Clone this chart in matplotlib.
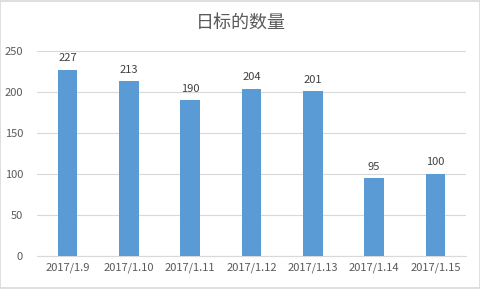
import matplotlib
matplotlib.use("Agg")
import matplotlib.pyplot as plt
from matplotlib.patches import Rectangle

plt.rcParams['font.family'] = ['Noto Sans CJK SC', 'DejaVu Sans']

categories = ["2017/1.9", "2017/1.10", "2017/1.11", "2017/1.12", "2017/1.13", "2017/1.14", "2017/1.15"]
values = [227, 213, 190, 204, 201, 95, 100]
title = "日标的数量"

fig = plt.figure(figsize=(4.81, 2.89), dpi=100)
fig.patches.append(Rectangle((0.001, 0.002), 0.997, 0.995, transform=fig.transFigure,
                             fill=False, edgecolor="#D9D9D9", linewidth=1.2))
ax = fig.add_axes([37/481, 1-256/289, (466-37)/481, (256-51)/289])

x = range(len(categories))
bars = ax.bar(x, values, width=0.32, color="#5B9BD5", zorder=3)
for xi, v in zip(x, values):
    ax.text(xi, v + 8, str(v), ha="center", va="bottom", fontsize=8, color="#404040")

ax.set_xlim(-0.5, len(categories) - 0.5)
ax.set_ylim(0, 250)
ax.set_yticks(range(0, 251, 50))
ax.set_xticks(list(x))
ax.set_xticklabels(categories)
ax.grid(axis="y", color="#D9D9D9", linewidth=0.8, zorder=0)
for s in ["top", "right", "left"]:
    ax.spines[s].set_visible(False)
ax.spines["bottom"].set_color("#D9D9D9")
ax.tick_params(axis="both", length=0, labelsize=8, labelcolor="#595959")
ax.tick_params(axis="y", pad=10)
ax.tick_params(axis="x", pad=5)

fig.text(0.5, 1 - 23/289, title, ha="center", va="center", fontsize=13, color="#595959")

fig.savefig("out.png", dpi=100)
